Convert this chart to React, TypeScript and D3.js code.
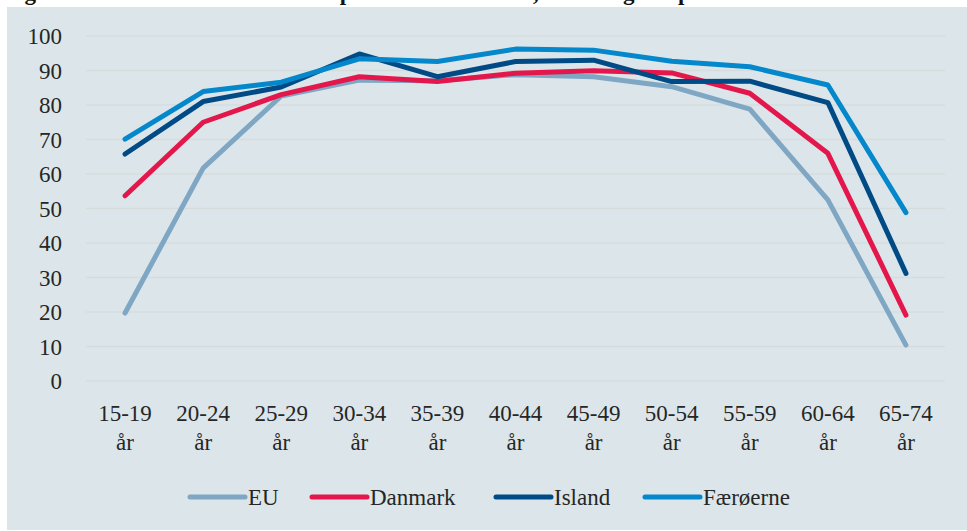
import React, { useEffect, useRef } from 'react';
import * as d3 from 'd3';

const ageGroups = ['15-19', '20-24', '25-29', '30-34', '35-39', '40-44', '45-49', '50-54', '55-59', '60-64', '65-74'];
const euValues = [19.7, 61.7, 82.6, 87.2, 87.0, 88.8, 88.2, 85.3, 78.8, 52.5, 10.4];
const danmarkValues = [53.7, 75.0, 83.0, 88.2, 86.8, 89.2, 89.9, 89.3, 83.4, 66.0, 19.1];
const islandValues = [65.8, 81.0, 85.2, 94.8, 88.2, 92.6, 93.0, 86.8, 86.9, 80.7, 31.2];
const faeroerneValues = [70.1, 83.9, 86.6, 93.4, 92.6, 96.2, 95.9, 92.7, 91.1, 85.8, 48.8];
const yTicks = [0, 10, 20, 30, 40, 50, 60, 70, 80, 90, 100];

const seriesNames = ['EU', 'Danmark', 'Island', 'Færøerne'];
const seriesColors = ['#7fa7c4', '#e3174b', '#004b85', '#0487cb'];

const FONT = '"Liberation Serif", "Times New Roman", serif';

const App: React.FC = () => {
  const svgRef = useRef<SVGSVGElement>(null);

  useEffect(() => {
    if (!svgRef.current) return;

    const width = 967;
    const height = 531;
    const plot = { left: 86, right: 945, top: 36, bottom: 381 };

    const svg = d3.select(svgRef.current);
    svg.selectAll('*').remove();

    // title line, cut off at the top like in the source
    svg.append('rect').attr('width', width).attr('height', height).attr('fill', '#ffffff');
    svg.append('text')
      .attr('x', 4)
      .attr('y', 0)
      .style('font-family', FONT)
      .style('font-size', '23px')
      .style('font-weight', 'bold')
      .style('fill', '#111')
      .text('Figur 1. Erhvervsfrekvens fordelt på alder i Danmark, Island og EU på');

    // panel background
    svg.append('rect')
      .attr('x', 7)
      .attr('y', 7)
      .attr('width', width - 7)
      .attr('height', height - 8)
      .attr('fill', '#dce6ea');

    const x = d3.scaleBand<string>().domain(ageGroups).range([plot.left, plot.right]);
    const y = d3.scaleLinear().domain([0, 100]).range([plot.bottom, plot.top]);

    // gridlines
    svg.append('g')
      .selectAll('line')
      .data(yTicks)
      .join('line')
      .attr('x1', plot.left)
      .attr('x2', plot.right)
      .attr('y1', (d) => y(d))
      .attr('y2', (d) => y(d))
      .attr('stroke', '#d6dcdc')
      .attr('stroke-width', 1.5);

    // y labels
    svg.append('g')
      .selectAll('text')
      .data(yTicks)
      .join('text')
      .attr('x', 62)
      .attr('y', (d) => y(d))
      .attr('dy', '0.35em')
      .attr('text-anchor', 'end')
      .style('font-family', FONT)
      .style('font-size', '23px')
      .style('fill', '#262626')
      .text((d) => d);

    // x labels (two lines)
    const xl = svg.append('g')
      .selectAll('text')
      .data(ageGroups)
      .join('text')
      .attr('text-anchor', 'middle')
      .style('font-family', FONT)
      .style('font-size', '23px')
      .style('fill', '#262626');
    xl.append('tspan')
      .attr('x', (d) => (x(d) as number) + x.bandwidth() / 2)
      .attr('y', 421)
      .text((d) => d);
    xl.append('tspan')
      .attr('x', (d) => (x(d) as number) + x.bandwidth() / 2)
      .attr('y', 450)
      .text('år');

    const allSeries = [euValues, danmarkValues, islandValues, faeroerneValues];
    const line = d3.line<number>()
      .x((_, i) => (x(ageGroups[i]) as number) + x.bandwidth() / 2)
      .y((d) => y(d));

    allSeries.forEach((vals, i) => {
      svg.append('path')
        .datum(vals)
        .attr('fill', 'none')
        .attr('stroke', seriesColors[i])
        .attr('stroke-width', 5)
        .attr('stroke-linecap', 'round')
        .attr('stroke-linejoin', 'round')
        .attr('d', line);
    });

    // legend
    const legendX = [190, 312, 496, 645];
    const legend = svg.append('g')
      .selectAll('g')
      .data(seriesNames)
      .join('g')
      .attr('transform', (_, i) => `translate(${legendX[i]},497)`);
    legend.append('line')
      .attr('x1', 0)
      .attr('x2', 55)
      .attr('stroke', (_, i) => seriesColors[i])
      .attr('stroke-width', 5)
      .attr('stroke-linecap', 'round');
    legend.append('text')
      .attr('x', 58)
      .attr('y', 8)
      .style('font-family', FONT)
      .style('font-size', '23px')
      .style('fill', '#262626')
      .text((d) => d);
  }, []);

  return (
    <div style={{ position: 'absolute', left: 0, top: 0 }}>
      <svg ref={svgRef} width={967} height={531} style={{ display: 'block' }} />
    </div>
  );
};

export default App;
